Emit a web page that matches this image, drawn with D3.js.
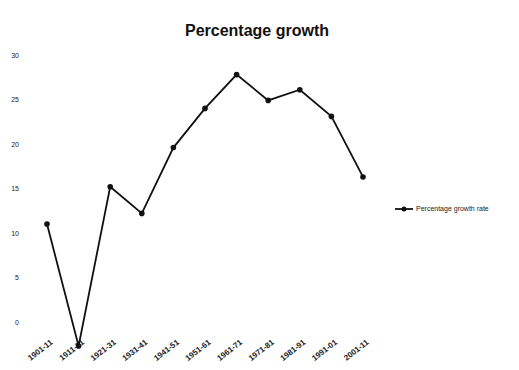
<!DOCTYPE html>
<html>
<head>
<meta charset="utf-8">
<script src="https://cdn.jsdelivr.net/npm/d3@7"></script>
<style>
  body { margin: 0; background: #fff; }
  .tick text { fill: #222; }
</style>
</head>
<body>
<div class="chart"></div>
<script>
// decadal percentage growth chart

var svgWidth = 519;
var svgHeight = 370;

// categories (census decades)
var decades = ["1901-11", "1911-21", "1921-31", "1931-41", "1941-51", "1951-61",
  "1961-71", "1971-81", "1981-91", "1991-01", "2001-11"];

// growth values
var growth = [11.0, -2.7, 15.2, 12.2, 19.6, 24.0, 27.8, 24.9, 26.1, 23.1, 16.3];

// y tick values
var yTicks = [0, 5, 10, 15, 20, 25, 30];

var seriesName = "Percentage growth rate";

var svg = d3.select(".chart")
  .append("svg")
  .attr("width", svgWidth)
  .attr("height", svgHeight);

svg.append("rect")
  .attr("width", svgWidth)
  .attr("height", svgHeight)
  .attr("fill", "#fff");

// scales
var xScale = d3.scalePoint()
  .domain(decades)
  .range([47, 363]);

var yScale = d3.scaleLinear()
  .domain([0, 30])
  .range([322, 55]);

// title
svg.append("text")
  .attr("x", 257)
  .attr("y", 36)
  .attr("text-anchor", "middle")
  .style("font-family", "'Liberation Sans', Arial, sans-serif")
  .style("font-weight", "bold")
  .style("font-size", "16px")
  .attr("fill", "#111")
  .text("Percentage growth");

// y axis, labels only
var leftAxis = d3.axisLeft(yScale)
  .tickValues(yTicks)
  .tickSize(0)
  .tickPadding(0);

var yAxis = svg.append("g")
  .attr("transform", "translate(19, 0)")
  .call(leftAxis);

yAxis.select(".domain").remove();
yAxis.selectAll("text")
  .style("font-family", "'Liberation Sans', Arial, sans-serif")
  .style("font-size", "7px");

// x labels, rotated
var bottomAxis = d3.axisBottom(xScale)
  .tickSize(0)
  .tickPadding(0);

var xAxis = svg.append("g")
  .attr("transform", "translate(0, 341)")
  .call(bottomAxis);

xAxis.select(".domain").remove();
xAxis.selectAll("text")
  .attr("text-anchor", "end")
  .attr("dy", "0.35em")
  .attr("transform", "translate(4, 0) rotate(-38)")
  .style("font-family", "'Liberation Sans', Arial, sans-serif")
  .style("font-weight", "bold")
  .style("font-size", "8px");

// line
var line = d3.line()
  .x((d, i) => xScale(decades[i]))
  .y(d => yScale(d));

svg.append("path")
  .datum(growth)
  .attr("d", line)
  .attr("fill", "none")
  .attr("stroke", "#111")
  .attr("stroke-width", 1.8);

svg.selectAll("circle.pt")
  .data(growth)
  .enter()
  .append("circle")
  .attr("class", "pt")
  .attr("cx", (d, i) => xScale(decades[i]))
  .attr("cy", d => yScale(d))
  .attr("r", 2.8)
  .attr("fill", "#111");

// legend
var legend = svg.append("g")
  .attr("transform", "translate(395, 209)");

legend.append("line")
  .attr("x1", 0)
  .attr("x2", 18)
  .attr("stroke", "#111")
  .attr("stroke-width", 1.8);

legend.append("circle")
  .attr("cx", 9)
  .attr("r", 2.5)
  .attr("fill", "#111");

legend.append("text")
  .attr("x", 21)
  .attr("dy", "0.35em")
  .style("font-family", "'Liberation Sans', Arial, sans-serif")
  .style("font-size", "7px")
  .attr("fill", "#222")
  .text(seriesName);
</script>
</body>
</html>
